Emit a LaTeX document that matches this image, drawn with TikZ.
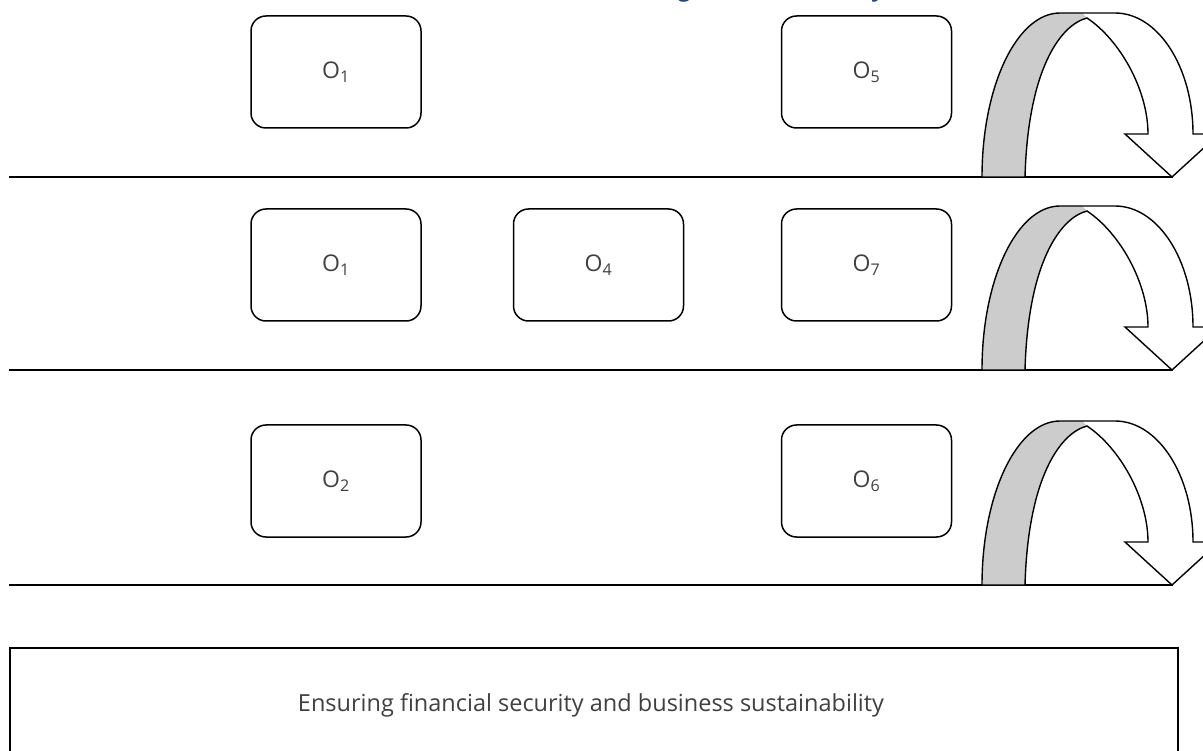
\documentclass[tikz,border=0pt]{standalone}
\usepackage{fontspec}
\setmainfont{Open Sans}
\definecolor{labelgray}{RGB}{64,64,64}
\definecolor{bandgray}{RGB}{204,204,204}
\definecolor{titleblue}{RGB}{31,73,125}
\tikzset{
  objbox/.style={draw=black, line width=1.5pt, rounded corners=15pt,
    minimum width=170pt, minimum height=112pt, inner sep=0pt,
    text=labelgray, font=\fontsize{23}{27}\selectfont},
  lane/.style={draw=black, line width=1.5pt},
  headfrag/.style={anchor=base, text=titleblue, inner sep=0pt,
    font=\fontsize{24}{28}\selectfont\bfseries\itshape},
  turnarrow/.pic={
    % shaded front band of the curved arrow
    \fill[bandgray] (0,0) .. controls (0,-91) and (35,-164) .. (78,-164)
      -- (100,-164) -- (105,-159) .. controls (78,-152) and (46,-107) .. (43,0) -- cycle;
    % full outline: band, back arc and arrow head
    \draw[line width=1.4pt, line join=miter]
      (0,0) .. controls (0,-91) and (35,-164) .. (78,-164)
      -- (133,-164) .. controls (176,-164) and (211,-110) .. (211,-43)
      -- (237,-43) -- (190,0) -- (143,-43) -- (166,-43)
      .. controls (166,-87) and (138,-137) .. (105,-159)
      .. controls (78,-152) and (46,-107) .. (43,0) -- cycle;
  }
}
\begin{document}
\begin{tikzpicture}[x=1pt, y=-1pt]
\useasboundingbox (0,0) rectangle (1203,751);
\clip (0,0) rectangle (1203,751);

% heading, cut by the top edge
\node[headfrag] (hg) at (686,-3) {g};
\node[headfrag] (hy) at (880,-3) {y};

% first lane
\node[objbox] (a1) at (336,72) {O\textsubscript{1}};
\node[objbox] (a5) at (866.5,72) {O\textsubscript{5}};
\coordinate (l1s) at (9,177);
\coordinate (l1e) at (1173,177);
\draw[lane] (l1s) -- (l1e);
\pic at (982,177) {turnarrow};

% second lane
\node[objbox] (b1) at (336,265) {O\textsubscript{1}};
\node[objbox] (b4) at (598.5,265) {O\textsubscript{4}};
\node[objbox] (b7) at (866.5,265) {O\textsubscript{7}};
\coordinate (l2s) at (9,370);
\coordinate (l2e) at (1173,370);
\draw[lane] (l2s) -- (l2e);
\pic at (982,370) {turnarrow};

% third lane
\node[objbox] (c2) at (336,481) {O\textsubscript{2}};
\node[objbox] (c6) at (866.5,481) {O\textsubscript{6}};
\coordinate (l3s) at (9,585);
\coordinate (l3e) at (1173,585);
\draw[lane] (l3s) -- (l3e);
\pic at (982,585) {turnarrow};

% foundation box
\node[draw=black, line width=1.5pt, minimum width=1168pt, minimum height=130pt,
  anchor=north west, inner sep=0pt] (base) at (9,647) {};
\node[text=labelgray, font=\fontsize{23.5}{28}\selectfont] (basetext) at (591,705)
  {Ensuring financial security and business sustainability};
\end{tikzpicture}
\end{document}
